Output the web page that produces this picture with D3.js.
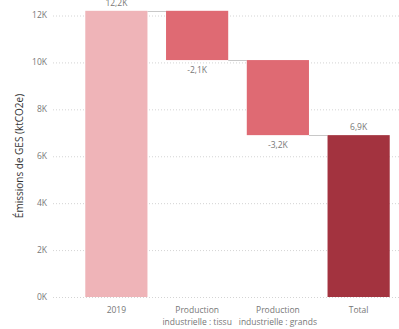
<!DOCTYPE html>
<html>
<head>
<meta charset="utf-8">
<script src="https://cdn.jsdelivr.net/npm/d3@7"></script>
<style>
    body { margin: 0; background: #fff; }
    svg { font-family: "Segoe UI", "Open Sans", sans-serif; }
    .tick-label { fill: #777; font-size: 8.5px; }
    .data-label { fill: #777; font-size: 8.5px; }
    .axis-title { fill: #333; font-size: 10px; }
</style>
</head>
<body>
<script>
var categories = ['2019', 'Production industrielle : tissu', 'Production industrielle : grands', 'Total'];
var changes = [12.2, -2.1, -3.2, 6.9];
var kinds = ['start', 'decrease', 'decrease', 'total'];
var labels = ['12,2K', '-2,1K', '-3,2K', '6,9K'];
var yTicks = [0, 2, 4, 6, 8, 10, 12];
var xLines = [['2019'], ['Production', 'industrielle : tissu'], ['Production', 'industrielle : grands'], ['Total']];

var width = 399, height = 329;
var colors = { start: '#EFB4B8', decrease: '#DF6A73', total: '#A3333F' };

// running totals for the waterfall
var running = 0;
var steps = categories.map(function (c, i) {
    var from, to;
    if (kinds[i] === 'total') {
        from = 0; to = running;
    } else if (kinds[i] === 'start') {
        from = 0; to = changes[i]; running = changes[i];
    } else {
        from = running; to = running + changes[i]; running = to;
    }
    return { name: c, from: from, to: to, kind: kinds[i], label: labels[i], idx: i };
});

var svg = d3.select('body').append('svg')
    .attr('width', width)
    .attr('height', height);

var x = d3.scaleBand()
    .domain(categories)
    .range([76, 399])
    .paddingInner(0.23)
    .paddingOuter(0.115);

var y = d3.scaleLinear()
    .domain([0, 12])
    .range([297, 15.5]);

// gridlines + tick labels
var grid = svg.append('g').attr('class', 'grid');
yTicks.forEach(function (t) {
    grid.append('line')
        .attr('x1', 53).attr('x2', 399)
        .attr('y1', y(t) + 0.5).attr('y2', y(t) + 0.5)
        .attr('stroke', '#d4d4d4')
        .attr('stroke-dasharray', '1,2');
    grid.append('text')
        .attr('class', 'tick-label')
        .attr('x', 47).attr('y', y(t))
        .attr('dy', '0.35em')
        .attr('text-anchor', 'end')
        .text(t + 'K');
});

svg.append('text')
    .attr('class', 'axis-title')
    .attr('transform', 'translate(23,' + 156 + ') rotate(-90)')
    .attr('text-anchor', 'middle')
    .text('Émissions de GES (ktCO2e)');

// connectors between bars
steps.forEach(function (s, i) {
    if (i === steps.length - 1) return;
    svg.append('line')
        .attr('x1', x(s.name) + x.bandwidth())
        .attr('x2', x(steps[i + 1].name))
        .attr('y1', Math.round(y(s.to)) + 0.5)
        .attr('y2', Math.round(y(s.to)) + 0.5)
        .attr('stroke', '#c8c8c8')
        .attr('stroke-width', 1);
});

// bars
svg.append('g').selectAll('rect')
    .data(steps)
    .enter().append('rect')
    .attr('x', d => x(d.name))
    .attr('width', x.bandwidth())
    .attr('y', d => y(Math.max(d.from, d.to)))
    .attr('height', d => Math.abs(y(d.from) - y(d.to)))
    .attr('fill', d => colors[d.kind]);

// data labels
steps.forEach(function (s) {
    var cx = x(s.name) + x.bandwidth() / 2;
    var below = s.to < s.from;
    svg.append('text')
        .attr('class', 'data-label')
        .attr('x', cx)
        .attr('y', below ? y(s.to) + 13 : y(s.to) - 5)
        .attr('text-anchor', 'middle')
        .text(s.label);
});

// category labels
xLines.forEach(function (lines, i) {
    var cx = x(categories[i]) + x.bandwidth() / 2;
    var t = svg.append('text')
        .attr('class', 'tick-label')
        .attr('text-anchor', 'middle')
        .attr('x', cx)
        .attr('y', 313);
    lines.forEach(function (l, j) {
        t.append('tspan').attr('x', cx).attr('dy', j === 0 ? 0 : 12).text(l);
    });
});
</script>
</body>
</html>
